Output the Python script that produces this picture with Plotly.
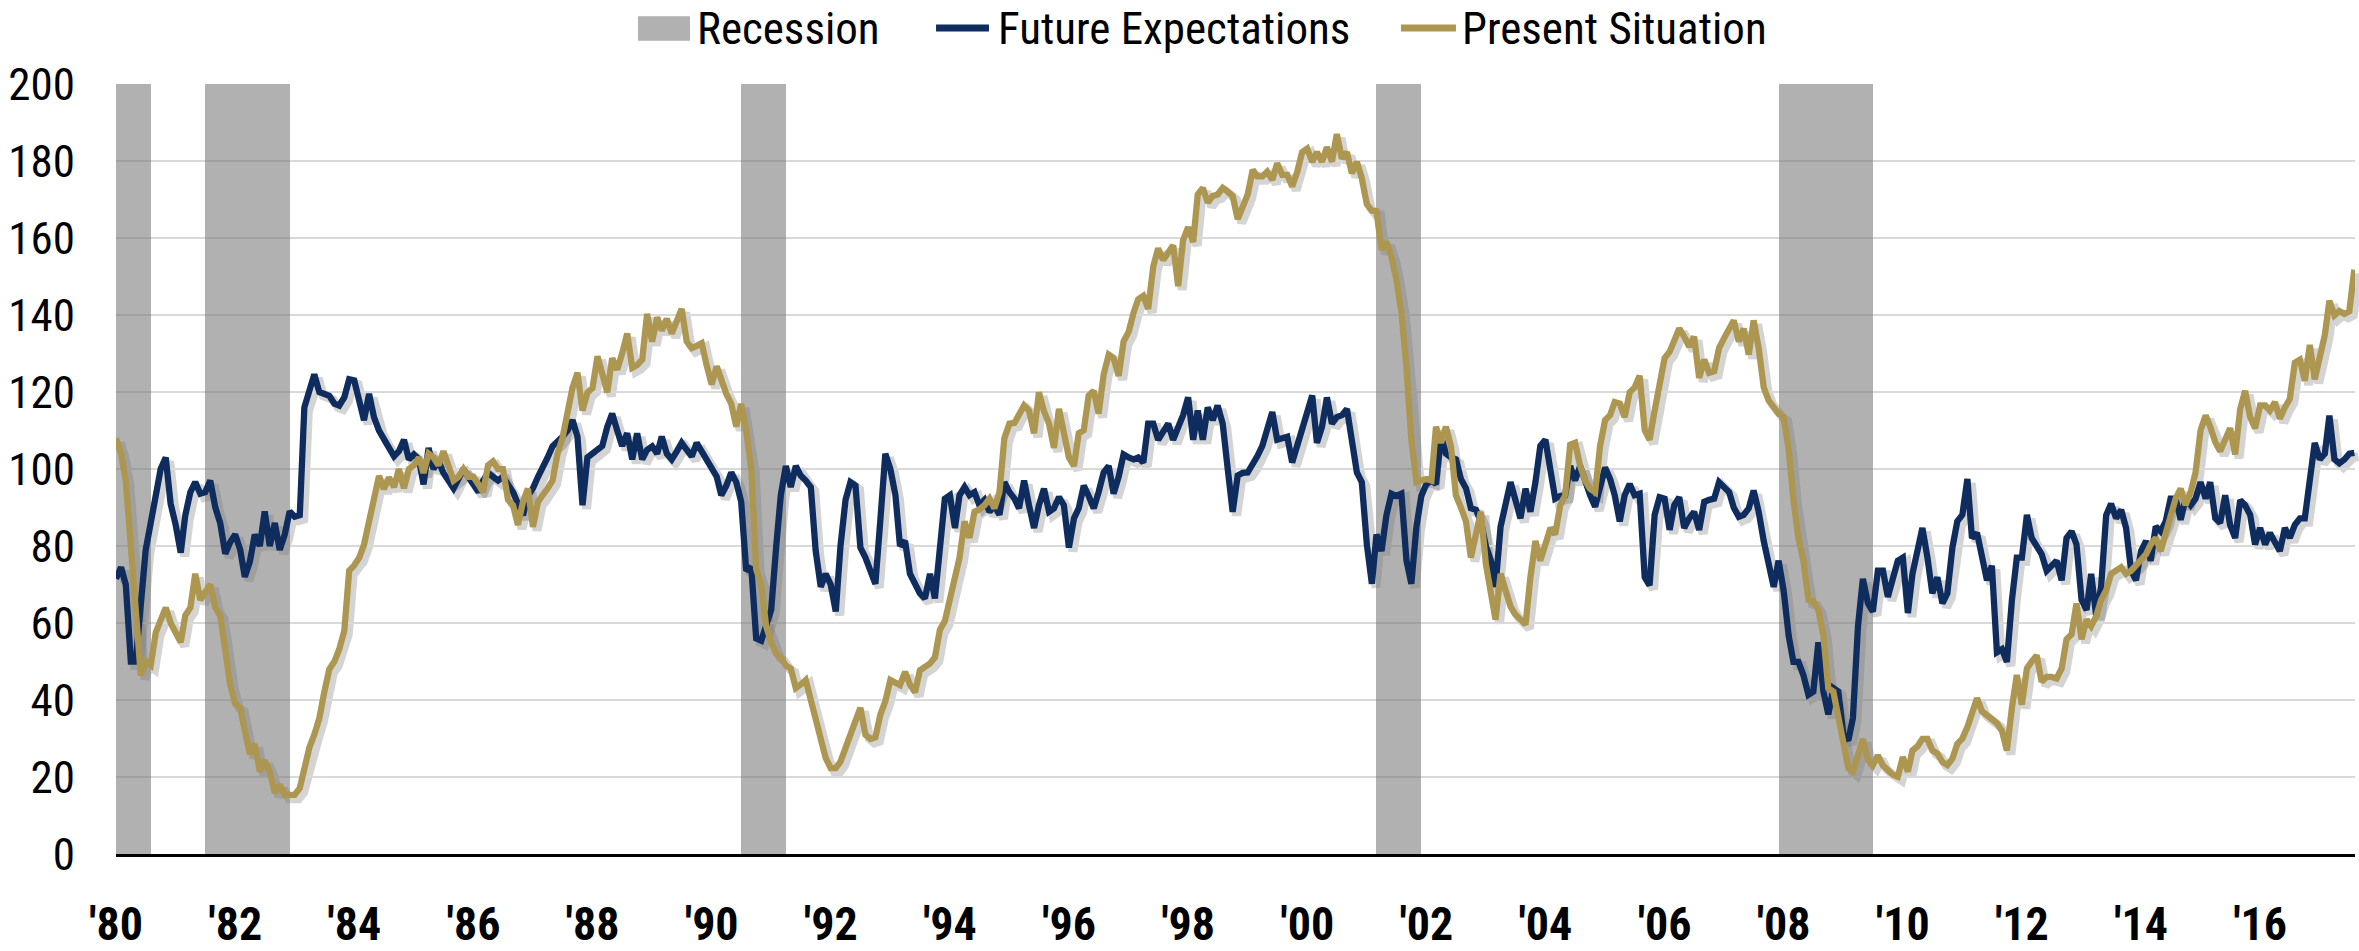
import pandas as pd
import plotly.graph_objects as go

# ---------------- data (monthly, Jan 1980 - Aug 2017) ----------------
fe_1980s = [
    71.5, 74.5, 70, 50, 50, 67, 79, 86, 93, 100, 103, 91,
    85.5, 78.3, 88, 94, 96.6, 93.6, 94, 97, 90, 86, 78, 81,
    83, 79, 72, 76, 83, 80, 89, 80, 86, 79, 83, 89,
    87.6, 88, 116, 120, 124.6, 120, 119.5, 119, 117, 116.5, 118.6, 123.3,
    123, 117, 112.7, 119.5, 113.5, 110, 107.6, 105, 103.3, 104.6, 107.6, 102.5,
    103.8, 102.5, 96, 105.5, 100, 102, 99, 97, 95, 97.4, 100, 98,
    96, 94, 97, 99, 98, 97, 98, 96, 94, 91, 88, 93,
    95, 98, 100, 103, 105.9, 107, 108.4, 110, 112.7, 108.4, 90.6, 103,
    104, 105, 106, 111, 114.4, 110, 106, 109.3, 102.5, 109.3, 102.5, 105,
    105.9, 104, 108.4, 104, 102.5, 104.6, 106.8, 105, 103.3, 106.8, 104.6, 102,
]
fe_1990s = [
    100, 98, 93.2, 95.7, 99.1, 96.6, 91.5, 73.6, 74.5, 56, 55.4, 59.2,
    63.4, 80, 93.2, 100.8, 95.3, 100.8, 98.3, 97, 95.3, 78.7, 69.4, 72.8,
    70, 63, 80, 92, 96.6, 95.7, 79.6, 77, 73, 70.2, 87, 104,
    100, 93.2, 80, 81.3, 72.8, 70, 67.7, 66.4, 72.8, 66.4, 80, 92.3,
    93.2, 84.7, 93.2, 95.3, 93.2, 94, 90.6, 92, 88.9, 90.6, 88.1, 96.6,
    94, 92.3, 89.8, 97, 90.6, 84.7, 90.6, 94.9, 88.9, 89.8, 92.7, 90.6,
    79.6, 87.2, 89.8, 95.7, 93, 89.8, 94, 99.1, 100.8, 93.6, 98, 103.8,
    103, 102.5, 103, 101.7, 111.8, 111.8, 107.6, 110, 111.8, 107.6, 111, 114,
    118.6, 107.6, 115.2, 107.6, 116, 112.7, 116.5, 111.8, 100, 88.9, 98.3, 99,
    99.1, 101, 103.3, 106, 110.1, 114.8, 107.6, 108, 108.4, 101.7, 106, 111,
]
fe_2000s = [
    115, 119.1, 106.8, 111, 118.6, 111.8, 113.5, 114, 115.6, 108.4, 99.1, 96.6,
    80.4, 70.2, 83, 78.7, 88, 93.6, 93, 93.6, 76.2, 70.2, 85, 93,
    96.1, 97, 96.1, 108.4, 104, 103, 102.5, 97.4, 95, 89.8, 89.4, 86.4,
    80, 76.2, 69.4, 85, 91.5, 96.6, 92, 87.2, 94.9, 88.9, 96.6, 106,
    107.6, 100.8, 92.3, 93, 93.2, 100.8, 97, 100.8, 96.6, 93.2, 90.2, 95,
    100.4, 97.4, 93.2, 86.4, 93.2, 96.1, 93.2, 93.6, 71.9, 69.8, 88.1, 92.7,
    92.3, 84.2, 90.6, 92.7, 84.7, 87.2, 88.9, 84.2, 91.5, 92, 92.3, 96.6,
    95, 94, 90, 87.6, 88.1, 89.8, 94.4, 88.9, 81.3, 75, 69.4, 76.2,
    68.5, 56.7, 49.9, 49.9, 46.5, 41.4, 42.2, 55, 42.2, 36.3, 43.1, 42.2,
    31.2, 29.5, 35.4, 59.2, 71.5, 65.1, 63, 73.6, 73.6, 66.8, 71.1, 76.2,
]
fe_2010s = [
    77, 62.6, 72.8, 79.6, 84.7, 77, 67.7, 71.9, 65.1, 67.7, 79.6, 86.4,
    88.1, 97.4, 82.1, 83.4, 77, 71.1, 74.9, 52.4, 53.2, 49.9, 66, 77,
    77, 88.1, 82.1, 79.6, 77.9, 73.6, 75, 76.2, 71.1, 82.1, 83.8, 80.4,
    66, 63.4, 72.8, 61.8, 69.4, 88, 91, 87.2, 89.4, 84.7, 73.6, 71.1,
    78.7, 81.3, 76.2, 85.1, 83.8, 86.4, 92.3, 92.3, 86.8, 92.3, 90.6, 92.3,
    96.6, 92.3, 96.6, 87.2, 86, 93.2, 85.5, 82.1, 91.9, 90.6, 88.1, 80.4,
    84.7, 80.4, 83.4, 81.3, 78.7, 84.7, 82.1, 85.5, 87.2, 87.2, 96.6, 106.8,
    102.5, 104, 113.9, 102.5, 101.5, 102.5, 104, 104.2,
]

ps_1980s = [
    108, 104, 97, 80, 60, 46.4, 50, 49, 57.6, 61, 64, 60,
    57, 55, 62, 64, 72.8, 66, 68, 70, 64, 62, 53, 44,
    39, 38, 32, 26, 28.6, 21.4, 24.3, 21.4, 15.9, 18, 15.4, 15.4,
    15.4, 17.1, 22.2, 27.7, 31, 35.3, 42, 48, 50, 53.2, 58, 73.6,
    75, 77, 80.4, 86.3, 92, 98.2, 94.8, 97.8, 95.3, 100, 95, 100,
    101, 103, 99, 104, 103, 101, 104.6, 101, 97, 98, 100, 98,
    98, 96, 94, 101, 102, 100, 100, 92, 90.6, 85.5, 91.5, 94.9,
    85, 91.5, 93, 95, 97, 104, 108, 114, 121.2, 125, 115.2, 119.9,
    121, 129.3, 124.6, 119.9, 128.8, 125.8, 130, 135.2, 126.3, 127, 128.4, 140.3,
    133.1, 139.4, 136, 139, 135.2, 138, 141.6, 133.1, 131.4, 132, 132.7, 127,
]
ps_1990s = [
    122, 126.7, 123, 119.5, 117, 111, 116.9, 110, 100, 74, 70, 59.2,
    55, 52, 51, 49, 48.2, 43.1, 44, 45.2, 40, 35, 28.6, 25,
    22.3, 22.3, 24, 28.2, 31, 34.6, 38, 31, 29.9, 30.3, 36.3, 39.7,
    45.2, 44.5, 43.9, 47.3, 44, 42, 47.7, 48.6, 49.5, 51.1, 58.3, 60.5,
    66, 71.1, 77, 86.4, 82.1, 88.9, 89.5, 90.6, 92.3, 89.8, 94, 108,
    111.8, 112, 114.4, 116.5, 115.2, 109.3, 119.9, 115, 111.8, 105.5, 115.6, 109.3,
    103, 100.8, 109.3, 110.1, 119.1, 120.3, 114.4, 124.6, 129.7, 128.8, 124.2, 133.1,
    135.6, 140.7, 144.1, 145, 141.6, 152.6, 157.3, 154.3, 156, 158.1, 147.5, 159.4,
    162.8, 159, 171.3, 173, 169.2, 170.9, 171.3, 173, 172, 170.9, 164.9, 167.9,
    171.3, 177.7, 176, 176, 177.2, 175.1, 179.4, 176.4, 176.4, 173.4, 177.2, 182.3,
]
ps_2000s = [
    183.2, 179.8, 182.3, 179.8, 183.6, 179.8, 187, 180.6, 182.3, 176.8, 179.8, 175.5,
    168.8, 167.1, 167, 156.9, 159, 155.2, 149.2, 140.7, 126.3, 107.6, 96.6, 97,
    97.4, 97, 111, 106.8, 111, 105.9, 93.2, 90, 86.4, 77, 83, 88.9,
    75.3, 68.5, 60.9, 72.8, 68, 64.3, 62.2, 61, 59.6, 71.9, 81.3, 76.2,
    80, 84.7, 83, 90.6, 93.2, 106.3, 106.8, 100.8, 97, 94.9, 94, 105.9,
    112.7, 114, 117.4, 117, 113.5, 119.9, 121.2, 124.2, 110.1, 107.6, 115.2, 122,
    128.8, 130.5, 133.1, 136.5, 134.4, 131.8, 134.4, 123.7, 128.4, 125, 125.4, 131.4,
    134, 136.5, 138.6, 133.1, 136.5, 129.7, 138.6, 131.4, 121.2, 117.8, 116, 114.4,
    113.5, 105, 92, 82, 76.2, 66, 65.6, 63.4, 56.7, 43.1, 42.2, 36.3,
    30.3, 22.3, 21.4, 25.2, 29.9, 24.4, 23.1, 25.6, 23, 21.8, 20.6, 20.1,
]
ps_2010s = [
    25.2, 21.4, 26.9, 28, 29.9, 29.9, 26.9, 26.1, 23.9, 23.1, 24.8, 28.6,
    30, 33, 37.1, 40.5, 37.1, 36, 35, 34, 32, 26.9, 38, 46.5,
    38.8, 48.2, 50, 51.6, 44.8, 46, 46, 45.6, 48.2, 55.8, 57.1, 65.1,
    55.8, 60.9, 59.2, 61.8, 66, 68.5, 72.8, 73.6, 74.5, 72.8, 73.6, 75,
    76.6, 77.9, 80.4, 82.1, 78.7, 83, 88.1, 92.3, 94.9, 90.6, 94, 99.1,
    110.1, 113.9, 111, 107, 104.6, 107.6, 110.6, 103.8, 115.6, 120.3, 113.5, 110.6,
    116.5, 116.5, 115.2, 117.4, 113.1, 116, 118.2, 127.6, 128.4, 122.9, 132.2, 123.3,
    128.8, 134.8, 143.7, 139.9, 141, 140.3, 141, 151.8,
]

recession_start = ["1980-01-01", "1981-07-01", "1990-07-01", "2001-03-01", "2007-12-01"]
recession_end = ["1980-08-01", "1982-12-01", "1991-04-01", "2001-12-01", "2009-07-01"]
recession_height = [200, 200, 200, 200, 200]

tick_years = list(range(1980, 2017, 2))
tick_labels = ["'" + str(y)[2:] for y in tick_years]

# ---------------- build ----------------
future_expectations = fe_1980s + fe_1990s + fe_2000s + fe_2010s
present_situation = ps_1980s + ps_1990s + ps_2000s + ps_2010s
dates = pd.date_range("1980-01-01", periods=len(present_situation), freq="MS")

NAVY = "#0E2D5E"
GOLD = "#AD9750"
REC = "rgba(120,120,120,0.58)"
SHADOW = "rgba(0,0,0,0.17)"
FONT = "Roboto Condensed, Noto Sans Condensed, DejaVu Sans Condensed, Liberation Sans Narrow, Arial Narrow, sans-serif"

X_RANGE = ["1980-01-01", "2017-08-05"]
Y_RANGE = [0, 200]

rs = pd.to_datetime(recession_start)
re_ = pd.to_datetime(recession_end)
widths = [(e - s).total_seconds() * 1000 for s, e in zip(rs, re_)]

fig = go.Figure()
# soft drop shadow (drawn on an identical, slightly offset subplot underneath)
for series in (future_expectations, present_situation):
    fig.add_trace(go.Scatter(
        x=dates, y=series, mode="lines", xaxis="x", yaxis="y",
        line=dict(color=SHADOW, width=9), showlegend=False, hoverinfo="skip",
    ))
# main subplot
fig.add_trace(go.Bar(
    x=rs, y=recession_height, width=widths, offset=0, xaxis="x2", yaxis="y2",
    marker=dict(color=REC, line=dict(width=0)),
    name="Recession", showlegend=False, hoverinfo="skip",
))
fig.add_trace(go.Scatter(
    x=dates, y=future_expectations, mode="lines", name="Future Expectations",
    xaxis="x2", yaxis="y2", line=dict(color=NAVY, width=6.3), showlegend=False,
))
fig.add_trace(go.Scatter(
    x=dates, y=present_situation, mode="lines", name="Present Situation",
    xaxis="x2", yaxis="y2", line=dict(color=GOLD, width=6.3), showlegend=False,
))

# ---------------- manual legend (paper coordinates) ----------------
LY = 1.0723
shapes = [
    dict(type="rect", xref="paper", yref="paper", x0=0.2327, x1=0.2559,
         y0=1.0558, y1=1.0876, fillcolor=REC, line=dict(width=0)),
    dict(type="line", xref="paper", yref="paper", x0=0.3656, x1=0.3892,
         y0=LY, y1=LY, line=dict(color=NAVY, width=7)),
    dict(type="line", xref="paper", yref="paper", x0=0.5729, x1=0.5974,
         y0=LY, y1=LY, line=dict(color=GOLD, width=7)),
]
annotations = []
for x, txt in [(0.2581, "Recession"), (0.3923, "Future Expectations"), (0.5992, "Present Situation")]:
    annotations.append(dict(
        xref="paper", yref="paper", x=x, y=LY, xanchor="left", yanchor="middle",
        text=txt, showarrow=False, font=dict(family=FONT, size=45, color="#000000"),
    ))

fig.update_layout(
    width=2359, height=951,
    margin=dict(l=116, r=0, t=84, b=79),
    paper_bgcolor="white", plot_bgcolor="rgba(0,0,0,0)",
    showlegend=False,
    shapes=shapes, annotations=annotations,
    bargap=0,
    xaxis=dict(type="date", range=X_RANGE, domain=[4 / 2243, 1], visible=False),
    yaxis=dict(range=Y_RANGE, domain=[0, 784 / 788], visible=False),
    xaxis2=dict(
        type="date", anchor="y2", domain=[0, 2239 / 2243],
        range=X_RANGE,
        tickmode="array",
        tickvals=[f"{y}-01-01" for y in tick_years],
        ticktext=tick_labels,
        tickfont=dict(family=FONT, size=46, color="#000000", weight="bold"),
        showgrid=False, zeroline=False,
        showline=True, linecolor="#000000", linewidth=3,
        ticks="", ticklabelstandoff=28,
    ),
    yaxis2=dict(
        anchor="x2", domain=[4 / 788, 1],
        range=Y_RANGE, tickmode="linear", tick0=0, dtick=20,
        tickfont=dict(family=FONT, size=45, color="#000000"),
        showgrid=True, gridcolor="#D9D9D9", gridwidth=2,
        zeroline=False, showline=False, ticks="", ticklabelstandoff=40,
    ),
)

fig.write_html(
    "out.html",
    config={"displayModeBar": False},
    post_script="document.body.style.margin='0';document.body.style.overflow='hidden';",
)
